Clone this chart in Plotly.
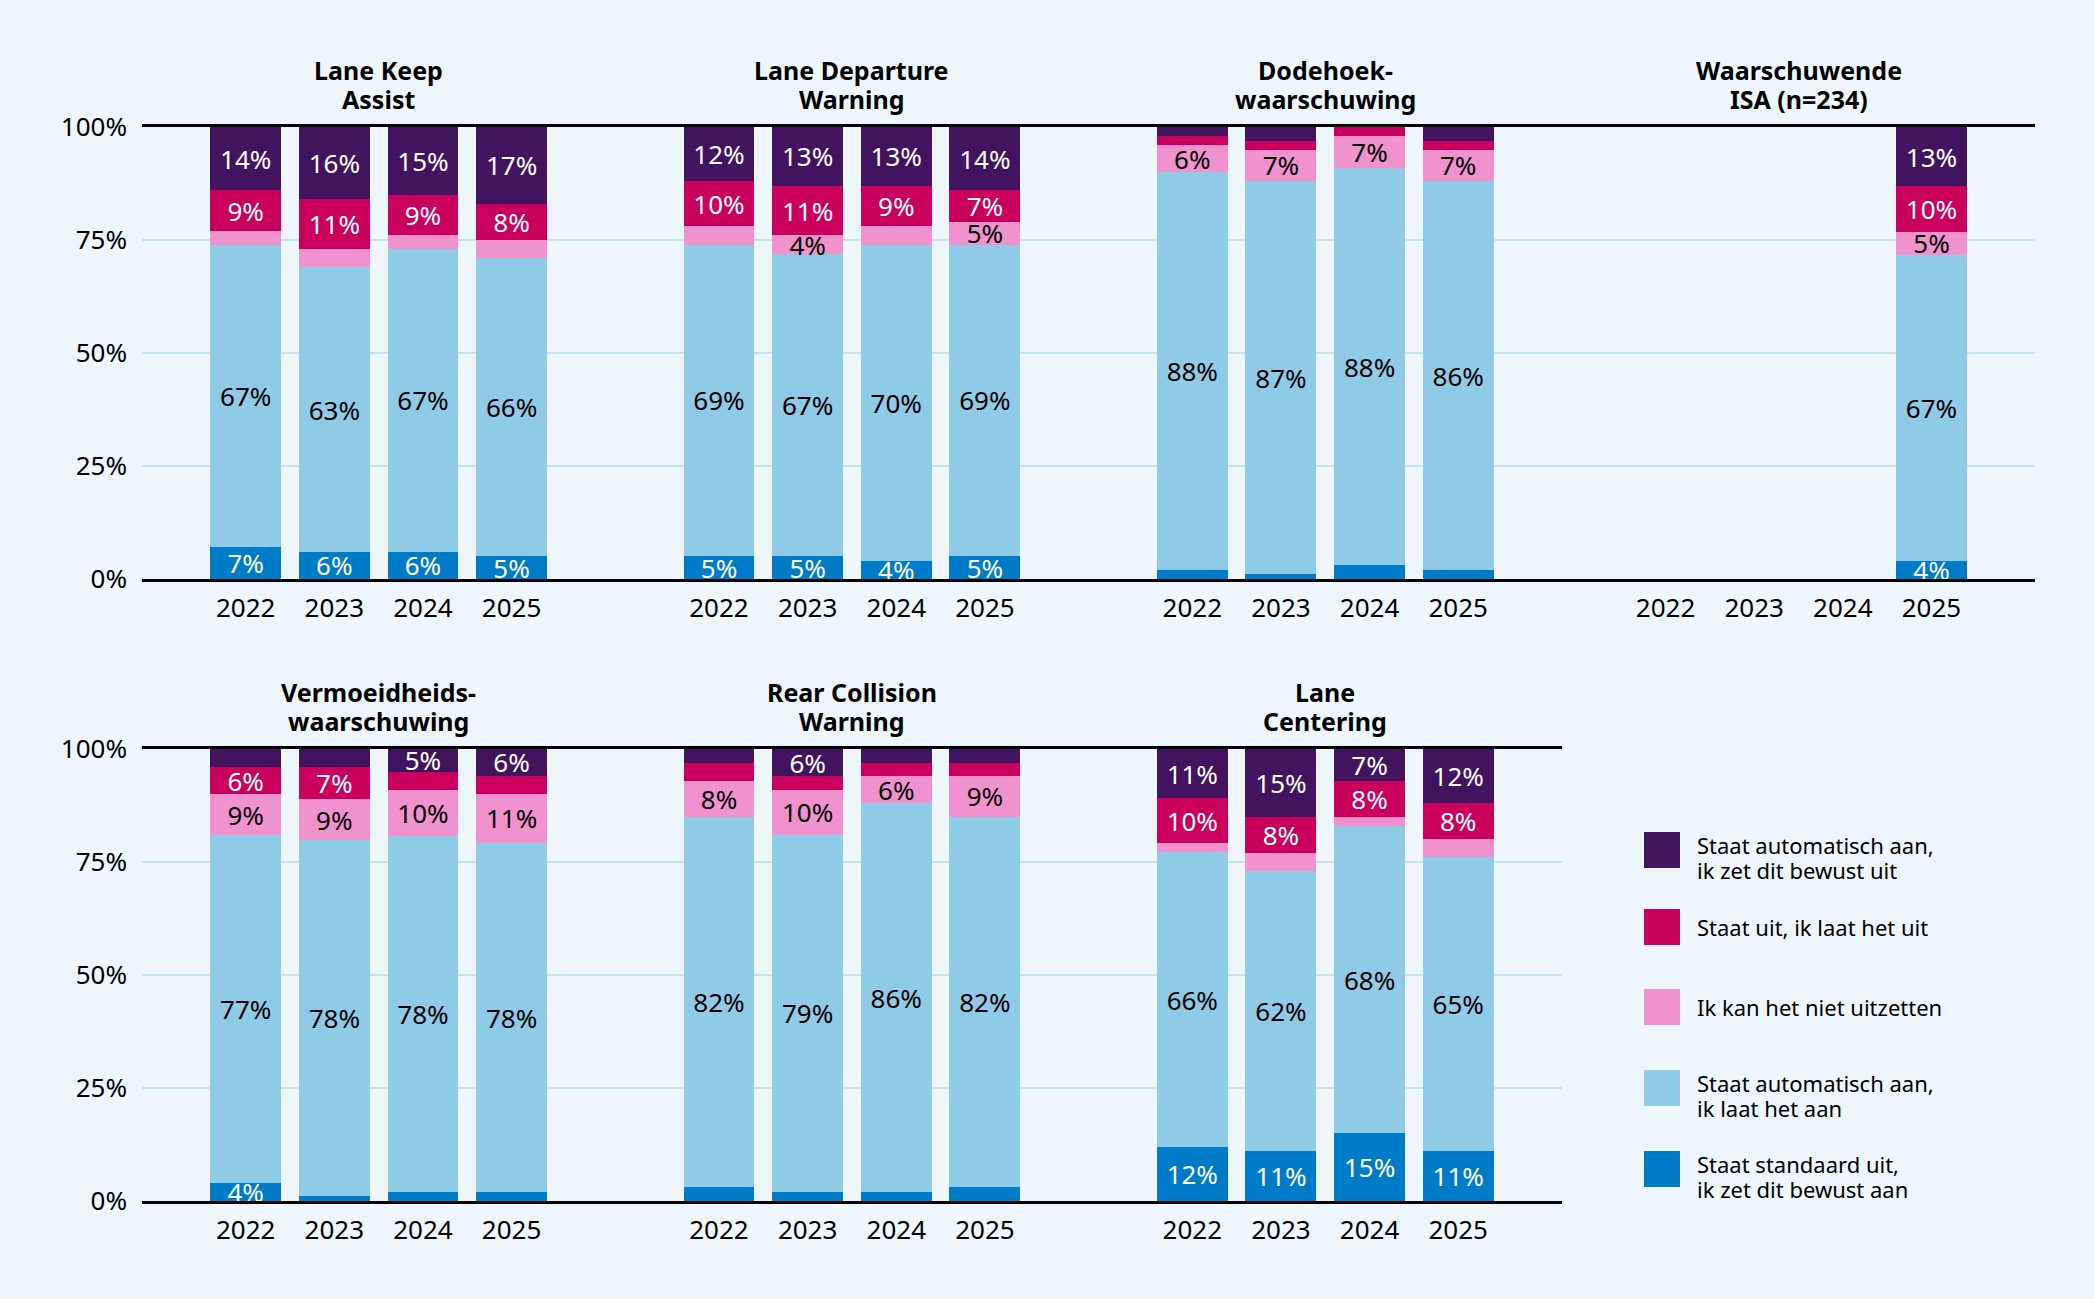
import plotly.graph_objects as go

W, H = 2094, 1316

years = ["2022", "2023", "2024", "2025"]
panel_titles = [
    "Lane Keep<br>Assist",
    "Lane Departure<br>Warning",
    "Dodehoek-<br>waarschuwing",
    "Waarschuwende<br>ISA (n=234)",
    "Vermoeidheids-<br>waarschuwing",
    "Rear Collision<br>Warning",
    "Lane<br>Centering",
]
y_ticks = [0, 25, 50, 75, 100]
y_tick_labels = ["0%", "25%", "50%", "75%", "100%"]

# series, stacked bottom -> top
series_names = [
    "Staat standaard uit,<br>ik zet dit bewust aan",
    "Staat automatisch aan,<br>ik laat het aan",
    "Ik kan het niet uitzetten",
    "Staat uit, ik laat het uit",
    "Staat automatisch aan,<br>ik zet dit bewust uit",
]
series_colors = ["#007BC7", "#8FCAE7", "#F092CD", "#CA005D", "#42145F"]
label_colors = ["#FFFFFF", "#000000", "#000000", "#FFFFFF", "#FFFFFF"]

# values: 7 panels x 4 years (LKA, LDW, Dodehoek, ISA, Vermoeidheid, Rear Collision, Lane Centering)
N = None
v_standaard_uit = [7, 6, 6, 5,  5, 5, 4, 5,  2, 1, 3, 2,  N, N, N, 4,  4, 1, 2, 2,  3, 2, 2, 3,  12, 11, 15, 11]
v_auto_aan_laat = [67, 63, 67, 66,  69, 67, 70, 69,  88, 87, 88, 86,  N, N, N, 67,  77, 78, 78, 78,  82, 79, 86, 82,  66, 62, 68, 65]
v_niet_uit      = [3, 4, 3, 4,  4, 4, 4, 5,  6, 7, 7, 7,  N, N, N, 5,  9, 9, 10, 11,  8, 10, 6, 9,  2, 4, 2, 4]
v_uit_laat_uit  = [9, 11, 9, 8,  10, 11, 9, 7,  2, 2, 2, 2,  N, N, N, 10,  6, 7, 4, 4,  4, 3, 3, 3,  10, 8, 8, 8]
v_auto_aan_uit  = [14, 16, 15, 17,  12, 13, 13, 14,  2, 3, 0, 3,  N, N, N, 13,  4, 4, 5, 6,  3, 6, 3, 3,  11, 15, 7, 12]

# which segments carry a printed percentage label (1 = shown)
s_standaard_uit = [1, 1, 1, 1,  1, 1, 1, 1,  0, 0, 0, 0,  0, 0, 0, 1,  1, 0, 0, 0,  0, 0, 0, 0,  1, 1, 1, 1]
s_auto_aan_laat = [1, 1, 1, 1,  1, 1, 1, 1,  1, 1, 1, 1,  0, 0, 0, 1,  1, 1, 1, 1,  1, 1, 1, 1,  1, 1, 1, 1]
s_niet_uit      = [0, 0, 0, 0,  0, 1, 0, 1,  1, 1, 1, 1,  0, 0, 0, 1,  1, 1, 1, 1,  1, 1, 1, 1,  0, 0, 0, 0]
s_uit_laat_uit  = [1, 1, 1, 1,  1, 1, 1, 1,  0, 0, 0, 0,  0, 0, 0, 1,  1, 1, 0, 0,  0, 0, 0, 0,  1, 1, 1, 1]
s_auto_aan_uit  = [1, 1, 1, 1,  1, 1, 1, 1,  0, 0, 0, 0,  0, 0, 0, 1,  0, 0, 1, 1,  0, 1, 0, 0,  1, 1, 1, 1]

values = [v_standaard_uit, v_auto_aan_laat, v_niet_uit, v_uit_laat_uit, v_auto_aan_uit]
shows = [s_standaard_uit, s_auto_aan_laat, s_niet_uit, s_uit_laat_uit, s_auto_aan_uit]

FONT = "Noto Sans"
BG = "#EEF6FC"
GRID = "#C3E2F3"

def X(px):
    return px / W

def Y(py):
    return 1 - py / H

# geometry (pixels)
left0 = 142.0
panel_w = 473.3
row_top = [127.0, 749.0]
row_bot = [579.0, 1201.0]
slot_left = 1.17

fig = go.Figure()
layout = dict(
    width=W, height=H,
    margin=dict(l=0, r=0, t=0, b=0, autoexpand=False),
    paper_bgcolor=BG, plot_bgcolor="rgba(0,0,0,0)",
    barmode="stack", barnorm="percent", bargap=0.2,
    showlegend=False,
    font=dict(family=FONT, size=26, color="#000000"),
    uniformtext=dict(minsize=26, mode="show"),
)

annotations = []
shapes = []

for p in range(7):
    row = 0 if p < 4 else 1
    col = p if p < 4 else p - 4
    ax = "" if p == 0 else str(p + 1)
    x0 = left0 + col * panel_w
    x1 = x0 + panel_w
    for s in range(5):
        vals = values[s][4 * p:4 * p + 4]
        sh = shows[s][4 * p:4 * p + 4]
        txt = [(f"{v}%" if (v is not None and f) else "") for v, f in zip(vals, sh)]
        fig.add_trace(go.Bar(
            x=years, y=vals, name=series_names[s].replace("<br>", " "),
            marker=dict(color=series_colors[s], line=dict(width=0)),
            text=txt, textposition="inside", insidetextanchor="middle",
            textangle=0, constraintext="none",
            textfont=dict(family=FONT, size=26, color=label_colors[s]),
            xaxis="x" + ax, yaxis="y" + ax,
            hovertemplate="%{x}: %{text}<extra></extra>",
        ))
    layout["xaxis" + ax] = dict(
        domain=[X(x0), X(x1)], anchor="y" + ax, automargin=False,
        type="category", categoryorder="array", categoryarray=years,
        range=[-slot_left, 3 + slot_left],
        showline=True, mirror=True, linecolor="#000000", linewidth=3,
        showgrid=False, zeroline=False, ticks="",
        tickfont=dict(family=FONT, size=26, color="#000000"),
        ticklabelstandoff=4, fixedrange=True,
    )
    layout["yaxis" + ax] = dict(
        domain=[Y(row_bot[row]), Y(row_top[row])], anchor="x" + ax, automargin=False,
        range=[0, 100], tickmode="array", tickvals=y_ticks, ticktext=y_tick_labels,
        showticklabels=(col == 0),
        showgrid=True, gridcolor=GRID, gridwidth=1.5,
        showline=False, zeroline=False, ticks="",
        tickfont=dict(family=FONT, size=26, color="#000000"),
        ticklabelstandoff=14, fixedrange=True,
    )
    # panel title, one annotation per line
    lines = panel_titles[p].split("<br>")
    for i, ln in enumerate(lines):
        annotations.append(dict(
            text="<b>" + ln + "</b>", x=X((x0 + x1) / 2), y=Y(row_top[row] - 57 + 29 * i),
            xref="paper", yref="paper", xanchor="center", yanchor="middle",
            showarrow=False, font=dict(family=FONT, size=25, color="#000000"),
        ))

# legend (drawn manually, top -> bottom order)
leg_centers = [850, 927, 1007, 1088, 1169]
for k, s in enumerate(range(4, -1, -1)):
    cy = leg_centers[k]
    shapes.append(dict(
        type="rect", xref="paper", yref="paper",
        x0=X(1644), x1=X(1680), y0=Y(cy + 18), y1=Y(cy - 18),
        fillcolor=series_colors[s], line=dict(width=0),
    ))
    lines = series_names[s].split("<br>")
    for i, ln in enumerate(lines):
        annotations.append(dict(
            text=ln, x=X(1695), y=Y(cy - 5 + 25 * i if len(lines) > 1 else cy),
            xref="paper", yref="paper", xanchor="left", yanchor="middle",
            showarrow=False, font=dict(family=FONT, size=22, color="#000000"),
        ))

# white strip at the bottom of the page
shapes.append(dict(
    type="rect", xref="paper", yref="paper", x0=0, x1=1, y0=0, y1=Y(1299),
    fillcolor="#FFFFFF", line=dict(width=0), layer="below",
))

layout["annotations"] = annotations
layout["shapes"] = shapes
fig.update_layout(**layout)
fig.write_html("out.html")
